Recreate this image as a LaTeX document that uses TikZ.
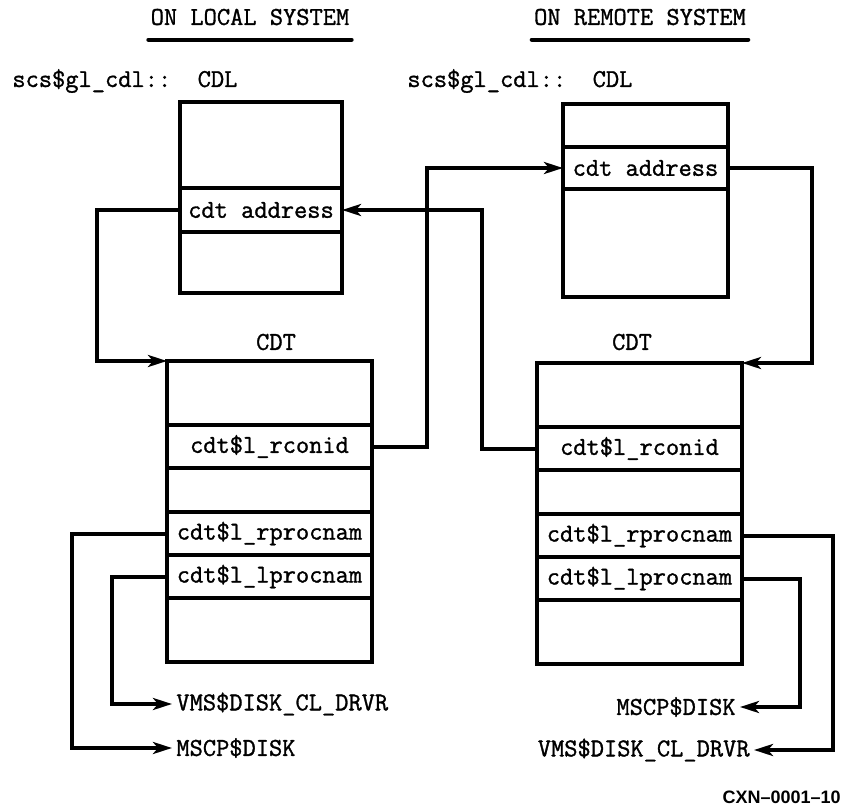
\documentclass[tikz,border=0pt]{standalone}
\usepackage{fontspec}
\setsansfont{Liberation Sans}
\newfontfamily\codefont[FakeBold=1.2]{Latin Modern Mono}
\usetikzlibrary{arrows.meta, positioning}

\begin{document}
\begin{tikzpicture}[
    x=0.5pt, y=-0.5pt,
    >={Stealth[length=9.5pt, width=6pt, inset=2.5pt]},
    mono/.style={font=\codefont\fontsize{12.85}{14}\selectfont},
    cell/.style={mono, draw, line width=2pt, inner sep=0pt, outer sep=0pt,
                 minimum height=21.5pt},
    cdlcell/.style={cell, minimum width=81pt},
    rcdlcell/.style={cell, minimum width=82.5pt},
    cdtcell/.style={cell, minimum width=102.5pt},
    link/.style={line width=2pt, ->},
    underline/.style={line width=2pt, line cap=round},
]
\useasboundingbox (0,0) rectangle (843,809);

% --- headings ---
\node[mono, inner sep=1pt] (ttlL) at (250,17) {ON LOCAL SYSTEM};
\node[mono, inner sep=1pt] (ttlR) at (640,17) {ON REMOTE SYSTEM};
\draw[underline] ([yshift=-6pt]ttlL.south west) -- ([yshift=-6pt]ttlL.south east);
\draw[underline] ([yshift=-6pt]ttlR.south west) -- ([yshift=-6pt]ttlR.south east);

\node[mono, anchor=west, inner sep=0pt] (symL) at (12,81) {scs\$gl\_cdl::~~CDL};
\node[mono, anchor=west, inner sep=0pt] (symR) at (407,81) {scs\$gl\_cdl::~~CDL};

% --- local CDL ---
\node[cdlcell, minimum height=43pt, anchor=north west] (lcdl0) at (180,102) {};
\node[cdlcell, minimum height=22pt, below=0pt of lcdl0] (lcdladdr) {cdt address};
\node[cdlcell, minimum height=30.5pt, below=0pt of lcdladdr] (lcdl2) {};

% --- remote CDL ---
\node[rcdlcell, minimum height=21.5pt, anchor=north west] (rcdl0) at (563,104) {};
\node[rcdlcell, minimum height=21pt, below=0pt of rcdl0] (rcdladdr) {cdt address};
\node[rcdlcell, minimum height=54pt, below=0pt of rcdladdr] (rcdl2) {};

% --- local CDT ---
\node[mono] (cdtL) at (276,342) {CDT};
\node[cdtcell, minimum height=32pt, anchor=north west] (lcdt0) at (167,361) {};
\node[cdtcell, below=0pt of lcdt0] (lcdtrcon) {cdt\$l\_rconid};
\node[cdtcell, minimum height=22pt, below=0pt of lcdtrcon] (lcdt2) {};
\node[cdtcell, below=0pt of lcdt2] (lcdtrproc) {cdt\$l\_rprocnam};
\node[cdtcell, below=0pt of lcdtrproc] (lcdtlproc) {cdt\$l\_lprocnam};
\node[cdtcell, minimum height=32pt, below=0pt of lcdtlproc] (lcdt5) {};

% --- remote CDT ---
\node[mono] (cdtR) at (632,342) {CDT};
\node[cdtcell, minimum height=32pt, anchor=north west] (rcdt0) at (537,363) {};
\node[cdtcell, below=0pt of rcdt0] (rcdtrcon) {cdt\$l\_rconid};
\node[cdtcell, minimum height=22pt, below=0pt of rcdtrcon] (rcdt2) {};
\node[cdtcell, below=0pt of rcdt2] (rcdtrproc) {cdt\$l\_rprocnam};
\node[cdtcell, below=0pt of rcdtrproc] (rcdtlproc) {cdt\$l\_lprocnam};
\node[cdtcell, minimum height=32pt, below=0pt of rcdtlproc] (rcdt5) {};

% --- driver names ---
\node[mono, anchor=west, inner sep=2pt] (vmsL) at (172,704) {VMS\$DISK\_CL\_DRVR};
\node[mono, anchor=west, inner sep=2pt] (mscpL) at (172,748) {MSCP\$DISK};
\node[mono, anchor=east, inner sep=2pt] (mscpR) at (740,707) {MSCP\$DISK};
\node[mono, anchor=east, inner sep=2pt] (vmsR) at (754,750) {VMS\$DISK\_CL\_DRVR};

% --- pointers ---
\draw[link] (lcdladdr.west) -- ++(-83,0) |- (lcdt0.north west);
\draw[link] (lcdtrcon.east) -- ++(55,0) |- (rcdladdr.west);
\draw[link] (rcdladdr.east) -- ++(84,0) |- (rcdt0.north east);
\draw[link] (rcdtrcon.west) -- ++(-55,0) |- (lcdladdr.east);

\draw[link] (lcdtrproc.west) -- ++(-95,0) |- (mscpL.west);
\draw[link] (lcdtlproc.west) -- ++(-55,0) |- (vmsL.west);
\draw[link] (rcdtrproc.east) -- ++(91,0) |- (vmsR.east);
\draw[link] (rcdtlproc.east) -- ++(58,0) |- (mscpR.east);

\node[font=\sffamily\bfseries\fontsize{9}{11}\selectfont, anchor=east, inner sep=0pt] (fig) at (841,797) {CXN--0001--10};
\end{tikzpicture}
\end{document}
